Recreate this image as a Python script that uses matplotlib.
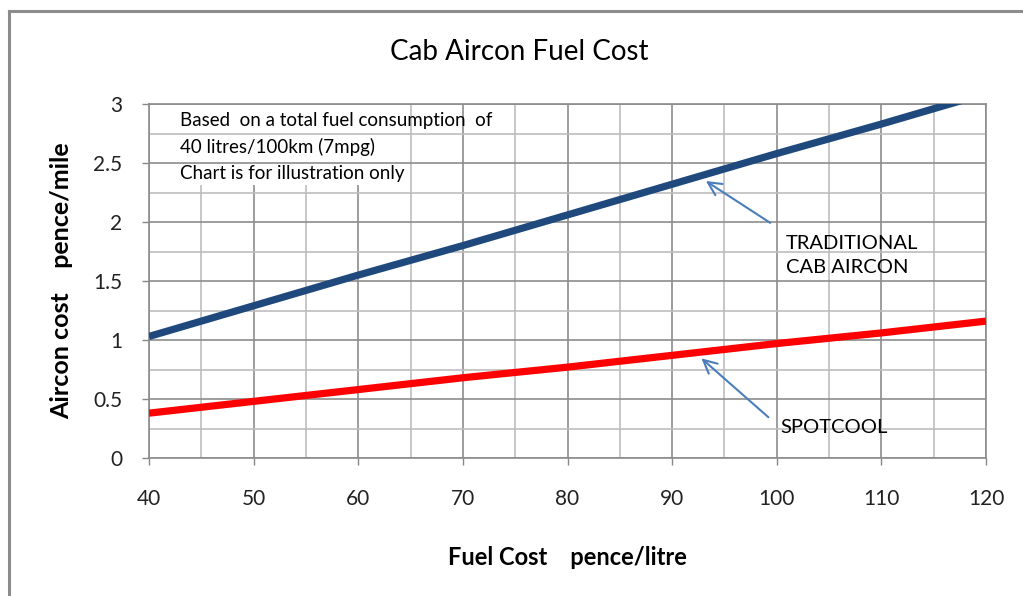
import matplotlib.pyplot as plt
from matplotlib.lines import Line2D
from matplotlib.patches import Rectangle
from matplotlib.ticker import MultipleLocator

plt.rcParams['font.family'] = ['Lato', 'DejaVu Sans']

# Data
fuel_cost = [40, 50, 60, 70, 80, 90, 100, 110, 120]
traditional = [1.03, 1.29, 1.55, 1.80, 2.06, 2.32, 2.58, 2.83, 3.09]
spotcool = [0.38, 0.48, 0.58, 0.68, 0.77, 0.87, 0.97, 1.06, 1.16]

x_ticks = [40, 50, 60, 70, 80, 90, 100, 110, 120]
y_ticks = [0, 0.5, 1, 1.5, 2, 2.5, 3]
y_tick_labels = ['0', '0.5', '1', '1.5', '2', '2.5', '3']

fig = plt.figure(figsize=(10.23, 5.96), dpi=100)
ax = fig.add_axes([149 / 1023, 1 - 458 / 596, (986 - 149) / 1023, (458 - 104) / 596])

ax.plot(fuel_cost, traditional, color='#1f497d', lw=5.2, solid_capstyle='butt', zorder=3)
ax.plot(fuel_cost, spotcool, color='#ff0000', lw=5.2, solid_capstyle='butt', zorder=3)

ax.set_xlim(40, 120)
ax.set_ylim(0, 3)
ax.set_xticks(x_ticks)
ax.set_yticks(y_ticks)
ax.set_yticklabels(y_tick_labels)
ax.xaxis.set_minor_locator(MultipleLocator(5))
ax.yaxis.set_minor_locator(MultipleLocator(0.25))
ax.tick_params(which='major', length=5, width=1, color='#888888', labelsize=15, labelcolor='#222222')
ax.tick_params(axis='x', which='major', pad=17)
ax.tick_params(axis='y', which='major', pad=14)
ax.tick_params(which='minor', length=0)
ax.grid(which='major', color='#8c8c8c', lw=1.2)
ax.grid(which='minor', color='#bdbdbd', lw=1.2)
ax.set_axisbelow(True)
# the note's white box hides the vertical grid lines but not the horizontal ones
ax.xaxis.set_zorder(0.4)
ax.yaxis.set_zorder(0.8)
note_box = Rectangle((40.3, 2.31), 22.6, 0.68, facecolor='white', edgecolor='none')
note_box.set_zorder(0.6)
ax.add_patch(note_box)
for s in ax.spines.values():
    s.set_color('#8c8c8c')
    s.set_linewidth(1.2)

ax.set_xlabel('Fuel Cost    pence/litre', fontsize=17, fontweight='bold', labelpad=27)
ax.set_ylabel('Aircon cost    pence/mile', fontsize=18, fontweight='bold', labelpad=15)
fig.text(0.508, 1 - 52 / 596, 'Cab Aircon Fuel Cost', ha='center', va='center', fontsize=20)

ax.text(43, 2.93, 'Based  on a total fuel consumption  of\n40 litres/100km (7mpg)\nChart is for illustration only',
        fontsize=13.5, va='top', ha='left', linespacing=1.6, zorder=4)

arrow = dict(arrowstyle='->', color='#4a7ebb', lw=1.5, mutation_scale=24)
ax.annotate('', xy=(93.0, 2.36), xytext=(99.6, 1.98), arrowprops=arrow)
ax.annotate('', xy=(92.6, 0.86), xytext=(99.4, 0.33), arrowprops=arrow)
ax.text(100.9, 1.72, 'TRADITIONAL\nCAB AIRCON', fontsize=14.5, va='center', ha='left', linespacing=1.5)
ax.text(100.3, 0.26, 'SPOTCOOL', fontsize=14.5, va='center', ha='left')

# outer chart frame (partly cropped in the original)
fig.add_artist(Line2D([8.5 / 1023, 8.5 / 1023], [0, 1 - 10.5 / 596], transform=fig.transFigure, color='#8c8c8c', lw=2.2))
fig.add_artist(Line2D([8.5 / 1023, 1], [1 - 10.5 / 596, 1 - 10.5 / 596], transform=fig.transFigure, color='#8c8c8c', lw=2.2))

fig.savefig('out.png', dpi=100)
